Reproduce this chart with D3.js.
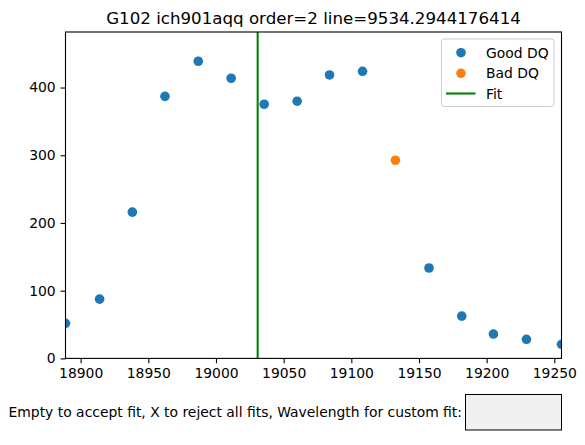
<!DOCTYPE html>
<html><head><meta charset="utf-8">
<script src="https://cdn.jsdelivr.net/npm/d3@7"></script>
<style>body{margin:0;background:#fff}svg{display:block}text{font-family:"DejaVu Sans",sans-serif;fill:#000}</style>
</head><body>
<script>
const titleText = "G102 ich901aqq order=2 line=9534.2944176414";
const goodX = [18888.8, 18914.0, 18938.2, 18962.3, 18986.9, 19011.2, 19035.6, 19060.0, 19083.9, 19108.3, 19157.4, 19181.6, 19205.0, 19229.4, 19255.3];
const goodY = [51.8, 87.5, 216, 387, 438.8, 413.7, 375.3, 379.8, 418.6, 424, 133.5, 62.5, 36, 28.2, 20.8];
const badX = [19132.6];
const badY = [292.6];
const fitX = 19030.8;
const xTicks = [18900, 18950, 19000, 19050, 19100, 19150, 19200, 19250];
const yTicks = [0, 100, 200, 300, 400];
const xDomain = [18888.8, 19255.3];
const yDomain = [0, 482];
const legendLabels = ["Good DQ", "Bad DQ", "Fit"];
const promptText = "Empty to accept fit, X to reject all fits, Wavelength for custom fit:";

const W = 585, H = 445;
const L = 65.5, R = 561.5, T = 32, B = 358.4;
const svg = d3.select("body").append("svg").attr("width", W).attr("height", H);
const x = d3.scaleLinear().domain(xDomain).range([L, R]);
const y = d3.scaleLinear().domain(yDomain).range([B, T]);
const FS = 13.9;
const MR = 4.8;

svg.append("defs").append("clipPath").attr("id", "clip")
  .append("rect").attr("x", L).attr("y", T).attr("width", R - L).attr("height", B - T);

const plot = svg.append("g").attr("clip-path", "url(#clip)");
plot.selectAll("circle.good").data(goodX.map((d, i) => [d, goodY[i]])).enter()
  .append("circle").attr("class", "good").attr("cx", d => x(d[0])).attr("cy", d => y(d[1]))
  .attr("r", MR).attr("fill", "#1f77b4");
plot.selectAll("circle.bad").data(badX.map((d, i) => [d, badY[i]])).enter()
  .append("circle").attr("class", "bad").attr("cx", d => x(d[0])).attr("cy", d => y(d[1]))
  .attr("r", MR).attr("fill", "#ff7f0e");
plot.append("line").attr("x1", x(fitX)).attr("x2", x(fitX)).attr("y1", T).attr("y2", B)
  .attr("stroke", "#008000").attr("stroke-width", 2.08);

const xAxis = svg.append("g").attr("transform", `translate(0,${B})`)
  .call(d3.axisBottom(x).tickValues(xTicks).tickFormat(d3.format("d")).tickSizeOuter(0).tickSize(4.9).tickPadding(4.9));
const yAxis = svg.append("g").attr("transform", `translate(${L},0)`)
  .call(d3.axisLeft(y).tickValues(yTicks).tickFormat(d3.format("d")).tickSizeOuter(0).tickSize(4.9).tickPadding(4.9));
[xAxis, yAxis].forEach(a => {
  a.select(".domain").remove();
  a.selectAll(".tick line").attr("stroke", "#000").attr("stroke-width", 1.1);
  a.selectAll(".tick text").attr("font-size", FS).attr("font-family", "DejaVu Sans").attr("fill", "#000");
});

svg.append("rect").attr("x", L).attr("y", T).attr("width", R - L).attr("height", B - T)
  .attr("fill", "none").attr("stroke", "#000").attr("stroke-width", 1.1);

svg.append("text").attr("x", (L + R) / 2).attr("y", 24).attr("text-anchor", "middle")
  .attr("font-size", 16.67).text(titleText);

// legend
const lg = svg.append("g");
lg.append("rect").attr("x", 441.5).attr("y", 39).attr("width", 112.5).attr("height", 67.5)
  .attr("rx", 2.8).attr("fill", "#fff").attr("fill-opacity", 0.8).attr("stroke", "#cccccc").attr("stroke-width", 1);
const rows = [52.7, 73.3, 93.5];
lg.append("circle").attr("cx", 461).attr("cy", rows[0]).attr("r", MR).attr("fill", "#1f77b4");
lg.append("circle").attr("cx", 461).attr("cy", rows[1]).attr("r", MR).attr("fill", "#ff7f0e");
lg.append("line").attr("x1", 446).attr("x2", 475.5).attr("y1", rows[2]).attr("y2", rows[2])
  .attr("stroke", "#008000").attr("stroke-width", 2.08);
legendLabels.forEach((t, i) => {
  lg.append("text").attr("x", 486).attr("y", rows[i]).attr("dy", "0.36em")
    .attr("font-size", FS).text(t);
});

// text box
svg.append("text").attr("x", 462).attr("y", 412).attr("dy", "0.36em").attr("text-anchor", "end")
  .attr("font-size", FS).text(promptText);
svg.append("rect").attr("x", 465.5).attr("y", 394.5).attr("width", 96).attr("height", 35.5)
  .attr("fill", "#f0f0f0").attr("stroke", "#000").attr("stroke-width", 1);
</script>
</body></html>
